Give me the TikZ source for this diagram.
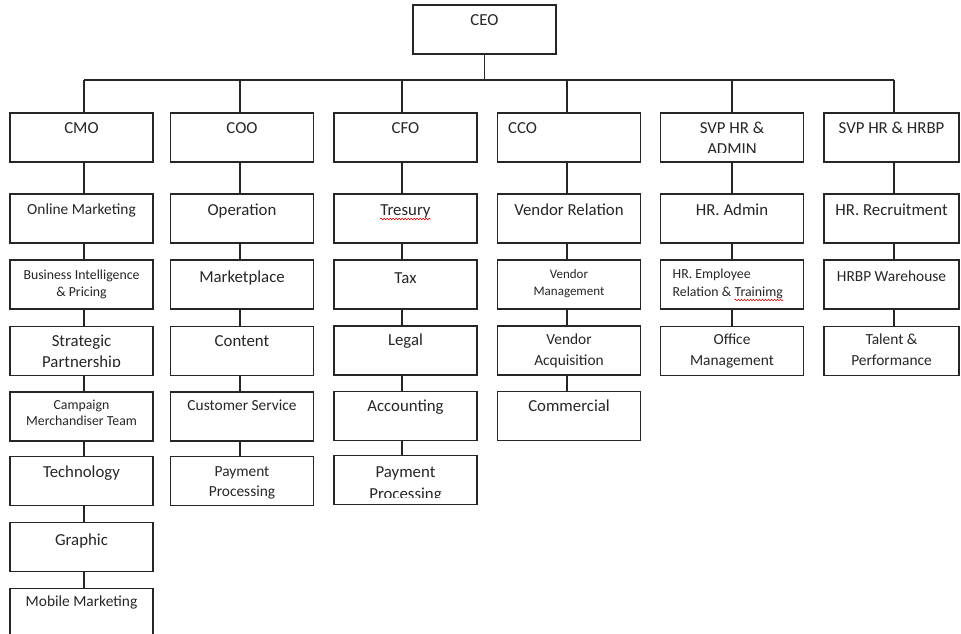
\documentclass[tikz,border=0pt]{standalone}
\usepackage{fontspec}
\setmainfont{Carlito}
\usetikzlibrary{calc,decorations.pathmorphing}
\newcommand\fL{\fontsize{16.8}{20}\selectfont}
\newcommand\fM{\fontsize{15.4}{18}\selectfont}
\newcommand\fS{\fontsize{13.8}{16}\selectfont}
\newcommand\fXS{\fontsize{13}{15}\selectfont}
\begin{document}
\begin{tikzpicture}[x=1pt,y=-1pt,
  orgbox/.style={draw=black!85, line width=1.2pt, anchor=north west, inner sep=0pt, outer sep=0pt, minimum height=49pt, minimum width=143pt},
  lbl/.style={anchor=base, inner sep=0pt, text=black!85},
  lbll/.style={anchor=base west, inner sep=0pt, text=black!85},
  link/.style={draw=black!85, line width=1.2pt},
  squig/.style={draw=red!85!black, line width=0.6pt, decorate, decoration={snake, segment length=3pt, amplitude=0.8pt}}
]
\useasboundingbox (0,0) rectangle (961,634);
\clip (0,0) rectangle (961,634);
\fill[white] (0,0) rectangle (961,634);

% connector x positions
\coordinate (c1) at (84,0);
\coordinate (c2) at (240,0);
\coordinate (c3) at (402,0);
\coordinate (c4) at (567,0);
\coordinate (c5) at (732,0);
\coordinate (c6) at (894,0);
\coordinate (bus) at (0,80);

% CEO
\node[orgbox] (ceo) at (413,5) {};
\node[lbl,font=\fL] (tceo) at ($(ceo.north)+(0,20.3)$) {CEO};

% ---------- Column 1 ----------
\node[orgbox] (cmo) at (10,113) {};
\node[lbl,font=\fL] (tcmo) at ($(cmo.north)+(0,20)$) {CMO};
\node[orgbox] (om) at (10,194) {};
\node[lbl,font=\fM] (tom) at ($(om.north)+(0,20.7)$) {Online Marketing};
\node[orgbox] (bi) at (10,260) {};
\node[lbl,font=\fS] (tbia) at ($(bi.north)+(0,19.3)$) {Business Intelligence};
\node[lbl,font=\fS] (tbib) at ($(bi.north)+(0,36)$) {\& Pricing};
\node[orgbox] (sp) at (10,326.5) {};
\begin{scope}
\clip (sp.north west) rectangle ($(sp.north east)+(0,40)$);
\node[lbl,font=\fL] (tspa) at ($(sp.north)+(0,19.5)$) {Strategic};
\node[lbl,font=\fL] (tspb) at ($(sp.north)+(0,41)$) {Partnership};
\end{scope}
\node[orgbox] (cmt) at (10,392) {};
\node[lbl,font=\fS] (tcmta) at ($(cmt.north)+(0,17.3)$) {Campaign};
\node[lbl,font=\fS] (tcmtb) at ($(cmt.north)+(0,33.7)$) {Merchandiser Team};
\node[orgbox] (tech) at (10,456.3) {};
\node[lbl,font=\fL] (ttech) at ($(tech.north)+(0,21)$) {Technology};
\node[orgbox] (gra) at (10,522.3) {};
\node[lbl,font=\fL] (tgra) at ($(gra.north)+(0,22.7)$) {Graphic};
\node[orgbox] (mm) at (10,588.3) {};
\node[lbl,font=\fM] (tmm) at ($(mm.north)+(0,18.3)$) {Mobile Marketing};

% ---------- Column 2 ----------
\node[orgbox] (coo) at (170.5,113) {};
\node[lbl,font=\fL] (tcoo) at ($(coo.north)+(0,20)$) {COO};
\node[orgbox] (op) at (170.5,194) {};
\node[lbl,font=\fL] (top) at ($(op.north)+(0,21.7)$) {Operation};
\node[orgbox] (mp) at (170.5,260) {};
\node[lbl,font=\fL] (tmp) at ($(mp.north)+(0,22.7)$) {Marketplace};
\node[orgbox] (con) at (170.5,326.5) {};
\node[lbl,font=\fL] (tcon) at ($(con.north)+(0,20)$) {Content};
\node[orgbox] (cs) at (170.5,392) {};
\node[lbl,font=\fM] (tcs) at ($(cs.north)+(0,18.7)$) {Customer Service};
\node[orgbox] (pp1) at (170.5,456.3) {};
\node[lbl,font=\fM] (tpp1a) at ($(pp1.north)+(0,19.7)$) {Payment};
\node[lbl,font=\fM] (tpp1b) at ($(pp1.north)+(0,40.4)$) {Processing};

% ---------- Column 3 ----------
\node[orgbox] (cfo) at (334,113) {};
\node[lbl,font=\fL] (tcfo) at ($(cfo.north)+(0,20)$) {CFO};
\node[orgbox] (tre) at (334,194) {};
\node[lbl,font=\fL] (ttre) at ($(tre.north)+(0,21.7)$) {Tresury};
\draw[squig] ($(ttre.base west)+(0,3.3)$) -- ($(ttre.base east)+(0,3.3)$);
\node[orgbox] (tax) at (334,260) {};
\node[lbl,font=\fL] (ttax) at ($(tax.north)+(0,23)$) {Tax};
\node[orgbox] (leg) at (334,326) {};
\node[lbl,font=\fL] (tleg) at ($(leg.north)+(0,19)$) {Legal};
\node[orgbox] (acc) at (334,391.7) {};
\node[lbl,font=\fL] (tacc) at ($(acc.north)+(0,20)$) {Accounting};
\node[orgbox] (pp2) at (334,455.7) {};
\begin{scope}
\clip (pp2.north west) rectangle ($(pp2.north east)+(0,41.5)$);
\node[lbl,font=\fL] (tpp2a) at ($(pp2.north)+(0,22)$) {Payment};
\node[lbl,font=\fL] (tpp2b) at ($(pp2.north)+(0,43.5)$) {Processing};
\end{scope}

% ---------- Column 4 ----------
\node[orgbox] (cco) at (497.5,113) {};
\node[lbll,font=\fL] (tcco) at ($(cco.north west)+(10.5,20)$) {CCO};
\node[orgbox] (vr) at (497.5,194) {};
\node[lbl,font=\fL] (tvr) at ($(vr.north)+(0,21.7)$) {Vendor Relation};
\node[orgbox] (vm) at (497.5,260) {};
\node[lbl,font=\fXS] (tvma) at ($(vm.north)+(0,18.3)$) {Vendor};
\node[lbl,font=\fXS] (tvmb) at ($(vm.north)+(0,35)$) {Management};
\node[orgbox] (va) at (497.5,326) {};
\node[lbl,font=\fM] (tvaa) at ($(va.north)+(0,18.3)$) {Vendor};
\node[lbl,font=\fM] (tvab) at ($(va.north)+(0,39)$) {Acquisition};
\node[orgbox] (com) at (497.5,391.7) {};
\node[lbl,font=\fL] (tcom) at ($(com.north)+(0,20)$) {Commercial};

% ---------- Column 5 ----------
\node[orgbox] (svpa) at (660.5,113) {};
\begin{scope}
\clip (svpa.north west) rectangle ($(svpa.north east)+(0,39)$);
\node[lbl,font=\fL] (tsvpaa) at ($(svpa.north)+(0,20)$) {SVP HR \&};
\node[lbl,font=\fL] (tsvpab) at ($(svpa.north)+(0,41.5)$) {ADMIN};
\end{scope}
\node[orgbox] (hra) at (660.5,194) {};
\node[lbl,font=\fL] (thra) at ($(hra.north)+(0,21.7)$) {HR. Admin};
\node[orgbox] (hre) at (660.5,260) {};
\node[lbll,font=\fS] (threa) at ($(hre.north west)+(12,18.3)$) {HR. Employee};
\node[lbll,font=\fS] (threb) at ($(hre.north west)+(12,36.7)$) {Relation \&};
\node[lbll,font=\fS] (threc) at ($(threb.base east)+(3.1,0)$) {Trainimg};
\draw[squig] ($(threc.base west)+(0,3.3)$) -- ($(threc.base east)+(0,3.3)$);
\node[orgbox] (ofm) at (660.5,326.7) {};
\node[lbl,font=\fM] (tofma) at ($(ofm.north)+(0,17.7)$) {Office};
\node[lbl,font=\fM] (tofmb) at ($(ofm.north)+(0,38.3)$) {Management};

% ---------- Column 6 ----------
\node[orgbox,minimum width=135pt] (svpb) at (824,113) {};
\node[lbl,font=\fL] (tsvpb) at ($(svpb.north)+(0,20)$) {SVP HR \& HRBP};
\node[orgbox,minimum width=135pt] (hrr) at (824,194) {};
\node[lbl,font=\fL] (thrr) at ($(hrr.north)+(0,21.7)$) {HR. Recruitment};
\node[orgbox,minimum width=135pt] (hrw) at (824,260) {};
\node[lbl,font=\fM] (thrw) at ($(hrw.north)+(0,21.7)$) {HRBP Warehouse};
\node[orgbox,minimum width=135pt] (tp) at (824,326.7) {};
\node[lbl,font=\fM] (ttpa) at ($(tp.north)+(0,17.7)$) {Talent \&};
\node[lbl,font=\fM] (ttpb) at ($(tp.north)+(0,38.3)$) {Performance};

% ---------- Connectors ----------
\draw[link] (ceo.south) -- (ceo.south |- bus);
\draw[link] (c1 |- bus) -- (c6 |- bus);
\foreach \c/\n in {c1/cmo,c2/coo,c3/cfo,c4/cco,c5/svpa,c6/svpb}
  \draw[link] (\c |- bus) -- (\n.north -| \c);
\foreach \a/\b in {cmo/om,om/bi,bi/sp,sp/cmt,cmt/tech,tech/gra,gra/mm}
  \draw[link] (\a.south -| c1) -- (\b.north -| c1);
\foreach \a/\b in {coo/op,op/mp,mp/con,con/cs,cs/pp1}
  \draw[link] (\a.south -| c2) -- (\b.north -| c2);
\foreach \a/\b in {cfo/tre,tre/tax,tax/leg,leg/acc,acc/pp2}
  \draw[link] (\a.south -| c3) -- (\b.north -| c3);
\foreach \a/\b in {cco/vr,vr/vm,vm/va,va/com}
  \draw[link] (\a.south -| c4) -- (\b.north -| c4);
\foreach \a/\b in {svpa/hra,hra/hre,hre/ofm}
  \draw[link] (\a.south -| c5) -- (\b.north -| c5);
\foreach \a/\b in {svpb/hrr,hrr/hrw,hrw/tp}
  \draw[link] (\a.south -| c6) -- (\b.north -| c6);
\end{tikzpicture}
\end{document}
